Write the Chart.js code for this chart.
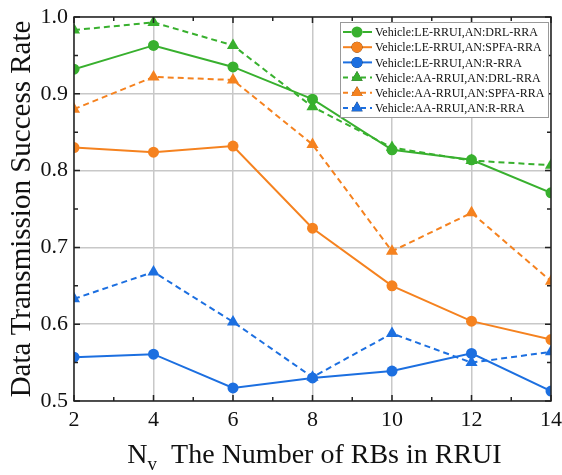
<!DOCTYPE html>
<html>
<head>
<meta charset="utf-8">
<script src="https://cdn.jsdelivr.net/npm/chart.js@4.4.1/dist/chart.umd.min.js"></script>
<style>
  body { margin: 0; background: #fff; }
  #wrap { width: 562px; height: 475px; }
</style>
</head>
<body>
<div id="wrap"><canvas id="line-chart" width="562" height="475"></canvas></div>
<script>
// values
var rbCounts = [2, 4, 6, 8, 10, 12, 14];
var leDrl  = [0.932, 0.963, 0.935, 0.893, 0.827, 0.814, 0.771];
var leSpfa = [0.830, 0.824, 0.832, 0.725, 0.650, 0.604, 0.580];
var leRrra = [0.557, 0.561, 0.517, 0.530, 0.539, 0.562, 0.513];
var aaDrl  = [0.983, 0.993, 0.963, 0.883, 0.830, 0.813, 0.807];
var aaSpfa = [0.880, 0.922, 0.918, 0.834, 0.695, 0.745, 0.656];
var aaRrra = [0.633, 0.668, 0.603, 0.531, 0.588, 0.550, 0.564];
var yTicks = [0.5, 0.6, 0.7, 0.8, 0.9, 1.0];

var GREEN = '#38b02e', ORANGE = '#f5821f', BLUE = '#1c6fe0';
var SERIF = '"Liberation Serif", "Times New Roman", serif';

function makeSet(label, values, color, dashed) {
    return {
        label: label,
        data: rbCounts.map((x, i) => ({ x: x, y: values[i] })),
        borderColor: color,
        backgroundColor: color,
        borderWidth: 2,
        borderDash: dashed ? [6, 4] : [],
        pointStyle: dashed ? 'triangle' : 'circle',
        pointRadius: dashed ? 7 : 5.5,
        pointHoverRadius: dashed ? 7 : 5.5,
        pointBorderWidth: 0,
        tension: 0,
        clip: 0
    };
}

// frame, inward ticks, x title with subscript, legend box
var decorPlugin = {
    id: 'decor',
    afterDraw(chart) {
        var ctx = chart.ctx, a = chart.chartArea;
        var xs = chart.scales.x, ys = chart.scales.y;
        ctx.save();
        ctx.strokeStyle = '#222';
        ctx.lineWidth = 1.5;
        ctx.strokeRect(a.left, a.top, a.right - a.left, a.bottom - a.top);

        ctx.beginPath();
        for (var v = 2; v <= 14; v += 1) {
            var px = xs.getPixelForValue(v);
            var len = (v % 2 === 0) ? 6 : 4;
            ctx.moveTo(px, a.bottom); ctx.lineTo(px, a.bottom - len);
            ctx.moveTo(px, a.top); ctx.lineTo(px, a.top + len);
        }
        for (var k = 0; k <= 10; k++) {
            var py = ys.getPixelForValue(0.5 + k * 0.05);
            var l2 = (k % 2 === 0) ? 6 : 4;
            ctx.moveTo(a.left, py); ctx.lineTo(a.left + l2, py);
            ctx.moveTo(a.right, py); ctx.lineTo(a.right - l2, py);
        }
        ctx.stroke();

        // x axis title: N_v  The Number of RBs in RRUI
        ctx.fillStyle = '#111';
        ctx.textBaseline = 'alphabetic';
        ctx.textAlign = 'left';
        var big = '28px ' + SERIF, small = '19px ' + SERIF;
        ctx.font = big;
        var wN = ctx.measureText('N').width;
        var rest = '  The Number of RBs in RRUI';
        var wR = ctx.measureText(rest).width;
        ctx.font = small;
        var wV = ctx.measureText('v').width;
        var total = wN + wV + wR;
        var x0 = (a.left + a.right) / 2 - total / 2 + 2;
        var base = 463;
        ctx.font = big;
        ctx.fillText('N', x0, base);
        ctx.font = small;
        ctx.fillText('v', x0 + wN, base + 7);
        ctx.font = big;
        ctx.fillText(rest, x0 + wN + wV, base);

        // legend
        var bx = 340, by = 22, bw = 208, bh = 95;
        ctx.fillStyle = '#fff';
        ctx.fillRect(bx, by, bw, bh);
        ctx.strokeStyle = '#999';
        ctx.lineWidth = 1;
        ctx.strokeRect(bx + 0.5, by + 0.5, bw, bh);
        ctx.font = '12px ' + SERIF;
        ctx.textBaseline = 'middle';
        chart.data.datasets.forEach((ds, i) => {
            var cy = by + 10 + i * 15.2;
            ctx.strokeStyle = ds.borderColor;
            ctx.lineWidth = 2;
            ctx.setLineDash(ds.borderDash.length ? [5, 4] : []);
            ctx.beginPath();
            ctx.moveTo(bx + 3, cy); ctx.lineTo(bx + 32, cy);
            ctx.stroke();
            ctx.setLineDash([]);
            Chart.helpers.drawPoint(ctx, {
                pointStyle: ds.pointStyle, radius: ds.pointStyle === 'triangle' ? 6.5 : 5.5,
                rotation: 0, borderWidth: 0
            }, bx + 17, cy);
            ctx.fillStyle = ds.borderColor;
            ctx.fill();
            ctx.fillStyle = '#111';
            ctx.fillText(ds.label, bx + 35, cy + 1);
        });
        ctx.restore();
    }
};

var chart = new Chart(document.getElementById('line-chart').getContext('2d'), {
    type: 'line',
    data: {
        datasets: [
            makeSet('Vehicle:LE-RRUI,AN:DRL-RRA', leDrl, GREEN, false),
            makeSet('Vehicle:LE-RRUI,AN:SPFA-RRA', leSpfa, ORANGE, false),
            makeSet('Vehicle:LE-RRUI,AN:R-RRA', leRrra, BLUE, false),
            makeSet('Vehicle:AA-RRUI,AN:DRL-RRA', aaDrl, GREEN, true),
            makeSet('Vehicle:AA-RRUI,AN:SPFA-RRA', aaSpfa, ORANGE, true),
            makeSet('Vehicle:AA-RRUI,AN:R-RRA', aaRrra, BLUE, true)
        ]
    },
    options: {
        responsive: false,
        animation: false,
        layout: { padding: { top: 17, right: 11, left: 0, bottom: 0 } },
        plugins: { legend: { display: false }, tooltip: { enabled: false } },
        scales: {
            x: {
                type: 'linear',
                min: 2, max: 14,
                afterFit: (s) => { s.height = 74; s.paddingLeft = 0; s.paddingRight = 0; },
                grid: { color: '#c8c8c8', lineWidth: 1.5, drawTicks: false },
                border: { display: false },
                ticks: {
                    stepSize: 2, padding: 6, color: '#111',
                    font: { family: SERIF, size: 22 }
                }
            },
            y: {
                type: 'linear',
                min: 0.5, max: 1.0,
                afterFit: (s) => { s.width = 74; s.paddingTop = 0; s.paddingBottom = 0; },
                afterBuildTicks: (s) => { s.ticks = yTicks.map(v => ({ value: v })); },
                grid: { color: '#c8c8c8', lineWidth: 1.5, drawTicks: false },
                border: { display: false },
                title: {
                    display: true,
                    text: 'Data Transmission Success Rate',
                    color: '#111',
                    font: { family: SERIF, size: 29 },
                    padding: { top: 5, bottom: 0 }
                },
                ticks: {
                    padding: 6, color: '#111',
                    font: { family: SERIF, size: 22 },
                    callback: (v) => v.toFixed(1)
                }
            }
        }
    },
    plugins: [decorPlugin]
});
</script>
</body>
</html>
